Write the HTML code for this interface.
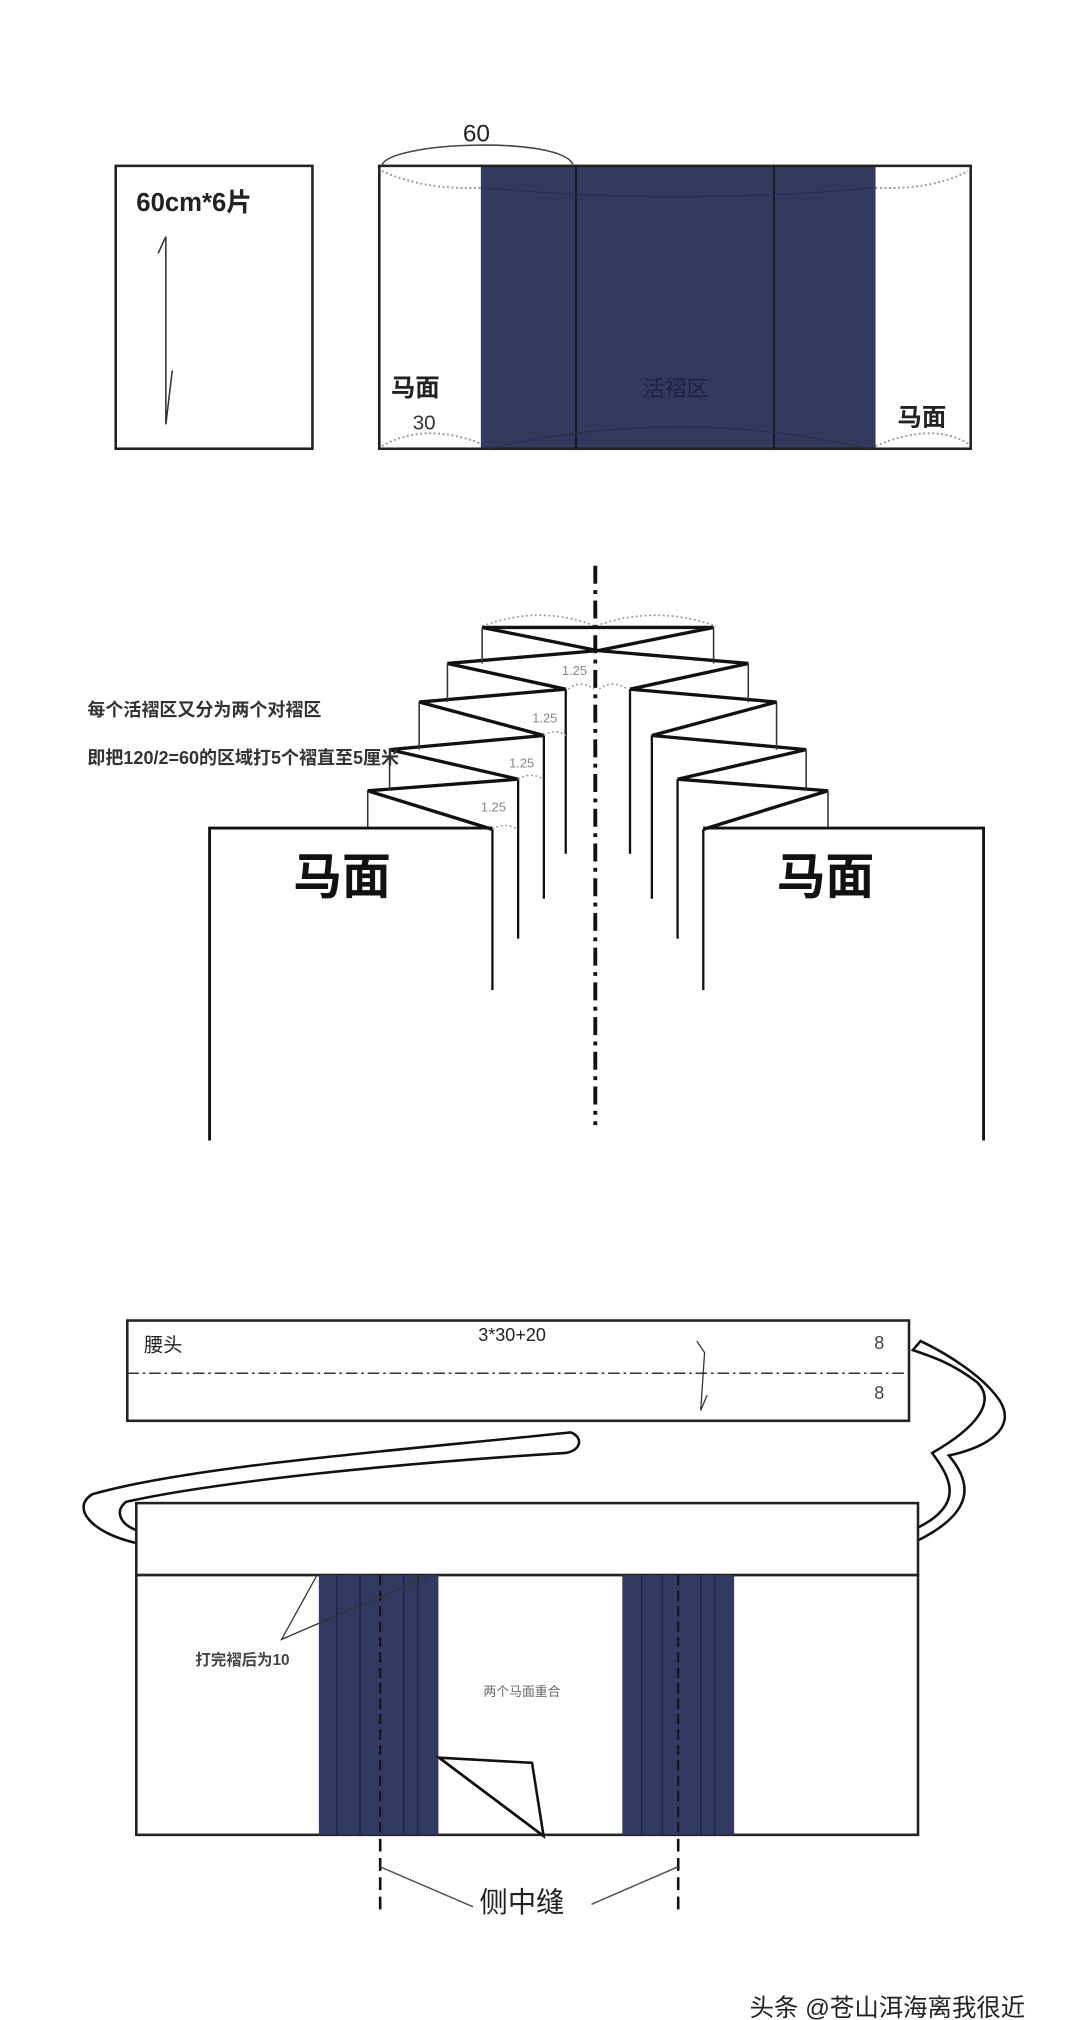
<!DOCTYPE html>
<html><head><meta charset="utf-8"><style>
html,body{margin:0;padding:0;background:#fff;}
svg{display:block;}
text{font-family:"Liberation Sans","Noto Sans CJK SC",sans-serif;}
</style></head><body>
<svg width="1080" height="2020" viewBox="0 0 840 1571" preserveAspectRatio="none" xmlns="http://www.w3.org/2000/svg">
<rect width="840" height="1571" fill="#fff"/>
<!-- Section 1 -->
<rect x="90" y="129" width="153" height="220" fill="#fff" stroke="#222" stroke-width="2"/>
<text x="106" y="164" font-size="20" font-weight="bold" fill="#222">60cm*6片</text>
<polyline points="123,197 129,184 129,330 134,288" fill="none" stroke="#333" stroke-width="1.2"/>
<rect x="374" y="129" width="307" height="220" fill="#343a5e"/>
<rect x="295" y="129" width="460" height="220" fill="none" stroke="#222" stroke-width="2"/>
<line x1="448" y1="129" x2="448" y2="349" stroke="#111" stroke-width="1.2"/>
<line x1="602" y1="129" x2="602" y2="349" stroke="#111" stroke-width="1.2"/>
<path d="M297,129 C300,110 440,105 446,129" fill="none" stroke="#444" stroke-width="1.2"/>
<text x="360" y="110" font-size="19" fill="#222">60</text>
<path d="M297,133 Q330,148 374,146" fill="none" stroke="#999" stroke-width="1.5" stroke-dasharray="1.5,2"/>
<path d="M681,146 Q725,148 753,133" fill="none" stroke="#999" stroke-width="1.5" stroke-dasharray="1.5,2"/>
<path d="M374,146 Q528,160 681,146" fill="none" stroke="#2b3050" stroke-width="1"/>
<path d="M297,347 Q330,328 374,345" fill="none" stroke="#999" stroke-width="1.5" stroke-dasharray="1.5,2"/>
<path d="M681,347 Q725,328 753,345" fill="none" stroke="#999" stroke-width="1.5" stroke-dasharray="1.5,2"/>
<path d="M380,349 Q528,315 676,349" fill="none" stroke="#2b3050" stroke-width="1"/>
<text x="304" y="308" font-size="19" font-weight="bold" fill="#222">马面</text>
<text x="321" y="334" font-size="16" fill="#333" font-family="Liberation Serif,serif">30</text>
<text x="500" y="308" font-size="17" fill="#1e2340">活褶区</text>
<text x="698" y="331" font-size="19" font-weight="bold" fill="#222">马面</text>
<!-- Section 2 -->
<line x1="463" y1="440" x2="463" y2="875" stroke="#111" stroke-width="3" stroke-dasharray="14,5,3,5"/>
<path d="M375,487 Q420,470 463,487 Q510,470 557,487" fill="none" stroke="#999" stroke-width="1.3" stroke-dasharray="1.5,2"/>
<polyline points="375,488 465,506 348,516 440,536 326,546 423,572 303,583 403,606 286,615 383,645" fill="none" stroke="#111" stroke-width="2.6"/>
<polyline points="555,488 465,506 582,516 490,536 604,546 507,572 627,583 527,606 644,615 547,645" fill="none" stroke="#111" stroke-width="2.6"/>
<line x1="375" y1="488" x2="555" y2="488" stroke="#111" stroke-width="2.6"/>
<g stroke="#333" stroke-width="1.2">
<line x1="375" y1="488" x2="375" y2="516"/><line x1="348" y1="516" x2="348" y2="546"/><line x1="326" y1="546" x2="326" y2="583"/><line x1="303" y1="583" x2="303" y2="615"/><line x1="286" y1="615" x2="286" y2="645"/>
<line x1="555" y1="488" x2="555" y2="516"/><line x1="582" y1="516" x2="582" y2="546"/><line x1="604" y1="546" x2="604" y2="583"/><line x1="627" y1="583" x2="627" y2="615"/><line x1="644" y1="615" x2="644" y2="645"/>
</g>
<g stroke="#111" stroke-width="1.8">
<line x1="440" y1="536" x2="440" y2="664"/><line x1="423" y1="572" x2="423" y2="699"/><line x1="403" y1="606" x2="403" y2="730"/><line x1="383" y1="645" x2="383" y2="770"/>
<line x1="490" y1="536" x2="490" y2="664"/><line x1="507" y1="572" x2="507" y2="699"/><line x1="527" y1="606" x2="527" y2="730"/><line x1="547" y1="645" x2="547" y2="770"/>
</g>
<polyline points="163,887 163,644 383,644" fill="none" stroke="#111" stroke-width="2.2"/>
<polyline points="547,644 765,644 765,887" fill="none" stroke="#111" stroke-width="2.2"/>
<g fill="none" stroke="#999" stroke-width="1.2" stroke-dasharray="1.5,2">
<path d="M442,536 Q452,528 462,536"/><path d="M466,536 Q476,528 488,536"/>
<path d="M423,572 Q432,566 440,572"/><path d="M403,606 Q412,600 423,606"/><path d="M383,645 Q392,639 403,645"/>
</g>
<g font-size="10" fill="#888" font-family="Liberation Serif,serif">
<text x="437" y="525">1.25</text><text x="414" y="562">1.25</text><text x="396" y="597">1.25</text><text x="374" y="631">1.25</text>
</g>
<text x="68" y="557" font-size="14" font-weight="bold" fill="#333">每个活褶区又分为两个对褶区</text>
<text x="68" y="594" font-size="14" font-weight="bold" fill="#333">即把120/2=60的区域打5个褶直至5厘米</text>
<text x="228" y="695" font-size="38" font-weight="bold" fill="#111">马面</text>
<text x="604" y="695" font-size="38" font-weight="bold" fill="#111">马面</text>
<!-- Section 3 -->
<rect x="99" y="1027" width="608" height="78" fill="#fff" stroke="#222" stroke-width="2"/>
<line x1="99" y1="1068" x2="707" y2="1068" stroke="#333" stroke-width="1.2" stroke-dasharray="9,3,2,3"/>
<text x="112" y="1051" font-size="15" fill="#222">腰头</text>
<text x="372" y="1043" font-size="14" fill="#222">3*30+20</text>
<text x="680" y="1049" font-size="14" fill="#444" font-family="Liberation Serif,serif">8</text>
<text x="680" y="1088" font-size="14" fill="#444" font-family="Liberation Serif,serif">8</text>
<polyline points="542,1043 548,1052 545,1097 550,1085" fill="none" stroke="#333" stroke-width="1"/>
<!-- ties -->
<path d="M106,1200 C70,1192 55,1172 72,1162 C150,1140 310,1128 444,1114 C454,1118 452,1128 440,1130 C310,1138 170,1152 98,1168 C88,1176 95,1186 106,1190" fill="#fff" stroke="#111" stroke-width="2"/>
<path d="M714,1188 C750,1170 740,1150 725,1130 C760,1110 775,1090 760,1075 C740,1060 725,1055 710,1050 L716,1043 C735,1052 765,1070 778,1090 C790,1110 770,1125 738,1132 C755,1152 760,1175 714,1198" fill="#fff" stroke="#111" stroke-width="2"/>
<rect x="106" y="1169" width="608" height="56" fill="#fff" stroke="#222" stroke-width="2"/>
<rect x="106" y="1225" width="608" height="202" fill="#fff" stroke="#222" stroke-width="2"/>
<rect x="248" y="1225" width="93" height="202" fill="#323a62"/>
<rect x="484" y="1225" width="87" height="202" fill="#323a62"/>
<g stroke="#1c2240" stroke-width="1">
<line x1="262" y1="1225" x2="262" y2="1427"/><line x1="280" y1="1225" x2="280" y2="1427"/><line x1="314" y1="1225" x2="314" y2="1427"/><line x1="325" y1="1225" x2="325" y2="1427"/>
<line x1="499" y1="1225" x2="499" y2="1427"/><line x1="515" y1="1225" x2="515" y2="1427"/><line x1="545" y1="1225" x2="545" y2="1427"/><line x1="556" y1="1225" x2="556" y2="1427"/>
</g>
<line x1="295.7" y1="1225" x2="295.7" y2="1427" stroke="#111" stroke-width="1.5" stroke-dasharray="8,4"/>
<line x1="527.5" y1="1225" x2="527.5" y2="1427" stroke="#111" stroke-width="1.5" stroke-dasharray="8,4"/>
<polygon points="341.5,1367 413.8,1371 422.8,1428" fill="#fff" stroke="#111" stroke-width="2"/>
<line x1="341.5" y1="1367" x2="422.8" y2="1428" stroke="#111" stroke-width="2"/>
<polyline points="246,1226 219,1275 333,1226" fill="none" stroke="#333" stroke-width="1"/>
<text x="152" y="1295" font-size="12" font-weight="bold" fill="#444">打完褶后为10</text>
<text x="376" y="1319" font-size="10" fill="#666">两个马面重合</text>
<line x1="295.7" y1="1430" x2="295.7" y2="1486" stroke="#111" stroke-width="2" stroke-dasharray="10,5"/>
<line x1="527.5" y1="1430" x2="527.5" y2="1486" stroke="#111" stroke-width="2" stroke-dasharray="10,5"/>
<line x1="296" y1="1452" x2="368" y2="1483" stroke="#555" stroke-width="1.2"/>
<line x1="527" y1="1452" x2="460" y2="1481" stroke="#555" stroke-width="1.2"/>
<text x="373" y="1487" font-size="22" fill="#222">侧中缝</text>
<text x="583" y="1568" font-size="19" fill="#222">头条 @苍山洱海离我很近</text>
</svg>
</body></html>
